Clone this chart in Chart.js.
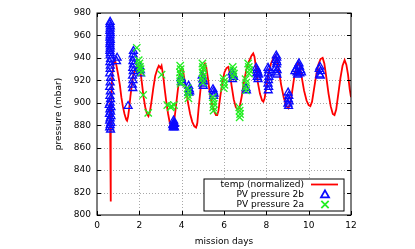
<!DOCTYPE html>
<html>
<head>
<meta charset="utf-8">
<script src="https://cdn.jsdelivr.net/npm/chart.js@4.4.0/dist/chart.umd.min.js"></script>
<style>
html,body{margin:0;padding:0;background:#fff;}
canvas{display:block;}
</style>
</head>
<body>
<canvas id="c" width="415" height="249"></canvas>
<script>
// ---- data ----
const seriesNames = ['temp (normalized)', 'PV pressure 2b', 'PV pressure 2a'];
const xTicks = [0, 2, 4, 6, 8, 10, 12];
const yTicks = [800, 820, 840, 860, 880, 900, 920, 940, 960, 980];
const xTitle = 'mission days';
const yTitle = 'pressure (mbar)';

const tempDays = [0.60,0.62,0.64,0.66,0.68,0.72,0.78,0.85,0.92,1.00,1.08,1.15,1.22,1.30,1.38,1.42,1.47,1.52,1.58,1.64,1.72,1.80,1.90,1.98,2.05,2.12,2.20,2.28,2.36,2.43,2.50,2.58,2.66,2.75,2.85,2.92,3.00,3.05,3.12,3.20,3.28,3.36,3.44,3.50,3.56,3.62,3.70,3.78,3.86,3.94,4.00,4.06,4.14,4.22,4.30,4.40,4.50,4.60,4.68,4.74,4.80,4.88,4.96,5.04,5.10,5.16,5.24,5.32,5.42,5.52,5.62,5.68,5.74,5.82,5.92,6.02,6.12,6.20,6.28,6.36,6.46,6.56,6.66,6.74,6.84,6.94,7.06,7.18,7.30,7.38,7.44,7.52,7.60,7.70,7.80,7.86,7.92,8.00,8.10,8.22,8.34,8.43,8.50,8.60,8.70,8.82,8.94,9.04,9.12,9.22,9.32,9.42,9.50,9.58,9.68,9.78,9.90,10.00,10.08,10.16,10.26,10.36,10.46,10.56,10.66,10.74,10.84,10.94,11.04,11.14,11.22,11.30,11.40,11.50,11.60,11.70,11.78,11.86,11.94,12.00];
const tempValues = [900,880,812,872,905,925,935,938,933,925,916,905,897,890,885,884,888,895,906,915,925,930,932,933,928,918,905,896,890,888,892,902,913,924,930,933,931,933,925,912,900,890,882,878,877,880,892,905,918,928,931,929,920,910,900,890,883,879,878,882,895,910,924,933,935,932,922,910,900,893,889,889,893,905,918,927,931,932,926,915,903,896,894,896,906,918,930,937,942,944,941,930,918,908,902,901,904,914,926,935,940,942,938,928,916,905,897,895,899,910,923,932,936,933,922,911,902,898,897,901,913,925,934,939,940,935,922,908,897,890,889,894,908,922,933,938,934,925,912,905];

const pv2bDays = [0.62,0.61,0.63,0.62,0.61,0.63,0.62,0.61,0.63,0.62,0.61,0.63,0.62,0.61,0.63,0.62,0.64,0.61,0.63,0.62,0.60,0.64,0.62,0.60,0.63,0.61,0.64,0.62,0.58,0.66,0.61,0.64,0.59,0.66,0.62,0.60,0.65,0.62,0.60,0.64,
  0.95,0.92,1.47,
  1.72,1.71,1.73,1.70,1.72,1.69,1.71,1.68,1.70,1.67,1.69,
  2.02,2.05,2.06,
  3.60,3.63,3.66,3.61,3.64,3.62,3.58,3.66,
  3.97,4.00,4.03,
  4.33,4.36,4.38,4.34,
  4.97,5.00,5.03,4.99,5.02,
  5.48,5.50,5.53,5.51,
  6.38,6.42,6.45,6.40,
  7.04,7.06,
  7.52,7.56,7.60,7.63,7.57,7.61,7.55,
  8.08,8.11,8.09,8.12,8.10,8.08,8.11,8.09,
  8.47,8.49,8.46,8.50,8.48,8.45,8.51,8.47,8.50,
  9.03,9.06,9.04,9.07,9.02,9.05,
  9.35,9.40,9.45,9.50,9.54,9.57,9.62,9.48,9.58,9.66,
  10.50,10.53,10.56,10.52,10.55];
const pv2bValues = [972,970,968,966,964,962,960,958,956,954,952,950,948,946,944,942,939,936,933,930,926,922,918,914,910,906,903,900,898,896,894,892,890,888,886,884,882,880,878,876,
  940,937,897,
  946,943,940,937,934,931,928,924,920,916,913,
  932,929,926,
  878,879,878,881,882,884,880,881,
  922,920,918,
  915,912,910,909,
  924,921,919,917,915,
  912,910,908,906,
  927,925,923,921,
  913,911,
  931,929,927,925,923,921,926,
  931,929,926,923,920,917,914,911,
  942,940,938,936,934,931,929,927,925,
  909,906,903,901,899,897,
  928,930,927,933,935,932,929,925,926,927,
  930,932,928,925,924];

const pv2aDays = [1.88,1.97,2.00,2.03,2.06,2.09,2.18,2.42,
  3.05,3.32,3.48,3.52,3.64,
  3.93,3.95,3.92,3.96,3.94,3.93,3.95,
  4.28,4.31,4.29,4.32,
  4.98,5.00,5.02,4.99,5.01,4.98,5.00,
  5.47,5.50,5.52,5.49,5.51,
  5.97,6.00,6.02,5.99,
  6.41,6.44,6.47,6.43,
  6.72,6.74,6.76,6.74,
  7.02,7.05,7.03,7.04,
  7.14,7.17,7.20,7.18];
const pv2aValues = [949,938,935,932,930,927,907,891,
  925,898,896,897,898,
  933,930,927,925,922,919,917,
  913,910,907,904,
  935,932,930,927,924,921,918,
  905,902,899,896,893,
  922,919,916,913,
  932,929,926,923,
  896,893,890,887,
  921,918,914,911,
  935,932,929,926];

// ---- colours / styles ----
const RED = '#ff0000', BLUE = '#0a0aff', GREEN = '#22ee22';
const FONT = "'DejaVu Sans', sans-serif";

function pts(xs, ys){ return xs.map((x,i)=>({x:x, y:ys[i]})); }

const framePlugin = {
  id: 'gnuFrame',
  beforeDatasetsDraw(chart){
    const ctx = chart.ctx, a = chart.chartArea;
    const xs = chart.scales.x, ys = chart.scales.y;
    ctx.save();
    ctx.strokeStyle = '#a8a8a8';
    ctx.lineWidth = 1;
    ctx.setLineDash([1, 2]);
    ctx.beginPath();
    yTicks.slice(1, -1).forEach(v=>{
      const py = Math.round(ys.getPixelForValue(v)) + 0.5;
      ctx.moveTo(a.left + 4, py); ctx.lineTo(a.right - 4, py);
    });
    xTicks.slice(1, -1).forEach(v=>{
      const px = Math.round(xs.getPixelForValue(v)) + 0.5;
      ctx.moveTo(px, a.bottom - 4); ctx.lineTo(px, a.top + 4);
    });
    ctx.stroke();
    ctx.restore();
  },
  afterDatasetsDraw(chart){
    const ctx = chart.ctx, a = chart.chartArea;
    const xs = chart.scales.x, ys = chart.scales.y;
    ctx.save();
    ctx.strokeStyle = '#000';
    ctx.lineWidth = 1;
    ctx.beginPath();
    yTicks.forEach(v=>{
      const py = Math.round(ys.getPixelForValue(v)) + 0.5;
      ctx.moveTo(a.left, py); ctx.lineTo(a.left+4, py);
      ctx.moveTo(a.right, py); ctx.lineTo(a.right-4, py);
    });
    xTicks.forEach(v=>{
      const px = Math.round(xs.getPixelForValue(v)) + 0.5;
      ctx.moveTo(px, a.bottom); ctx.lineTo(px, a.bottom-4);
      ctx.moveTo(px, a.top); ctx.lineTo(px, a.top+4);
    });
    ctx.stroke();
    ctx.strokeRect(a.left, a.top, a.right-a.left, a.bottom-a.top);
    ctx.restore();
  },
  afterDraw(chart){
    const ctx = chart.ctx;
    ctx.save();
    const bx = 204, by = 179, bw = 140, bh = 32;
    ctx.fillStyle = '#fff';
    ctx.fillRect(bx, by, bw, bh);
    ctx.strokeStyle = '#000';
    ctx.lineWidth = 1;
    ctx.strokeRect(bx, by, bw, bh);
    ctx.font = '9px ' + FONT;
    ctx.fillStyle = '#000';
    ctx.textAlign = 'right';
    ctx.textBaseline = 'middle';
    const rows = [184.5, 194.5, 204.5];
    seriesNames.forEach((n,i)=>ctx.fillText(n, 304, rows[i]));
    ctx.strokeStyle = RED; ctx.lineWidth = 1.8;
    ctx.beginPath(); ctx.moveTo(311, rows[0]); ctx.lineTo(338, rows[0]); ctx.stroke();
    ctx.strokeStyle = BLUE; ctx.fillStyle = 'rgba(0,0,0,0)';
    Chart.helpers.drawPoint(ctx, {pointStyle:'triangle', radius:4.6, borderWidth:1.3, rotation:0}, 325, 195);
    ctx.strokeStyle = GREEN;
    Chart.helpers.drawPoint(ctx, {pointStyle:'crossRot', radius:5.2, borderWidth:1.3, rotation:0}, 325, 204.5);
    ctx.restore();
  }
};

new Chart(document.getElementById('c'), {
  type: 'line',
  data: {
    datasets: [
      { label: seriesNames[0], data: pts(tempDays, tempValues), borderColor: RED, borderWidth: 1.8,
        pointRadius: 0, fill: false, tension: 0, order: 3 },
      { label: seriesNames[1], data: pts(pv2bDays, pv2bValues), showLine: false, pointStyle: 'triangle',
        pointRadius: 4.6, pointBorderWidth: 1.3, pointBorderColor: BLUE, pointBackgroundColor: 'rgba(0,0,0,0)',
        borderColor: BLUE, order: 2 },
      { label: seriesNames[2], data: pts(pv2aDays, pv2aValues), showLine: false, pointStyle: 'crossRot',
        pointRadius: 5.2, pointBorderWidth: 1.3, pointBorderColor: GREEN, pointBackgroundColor: GREEN,
        borderColor: GREEN, order: 1 }
    ]
  },
  options: {
    responsive: false,
    animation: false,
    devicePixelRatio: 1,
    layout: { padding: { left: 0, right: 64, top: 13, bottom: 0 } },
    plugins: { legend: { display: false }, tooltip: { enabled: false } },
    scales: {
      x: {
        type: 'linear', min: 0, max: 12,
        afterBuildTicks: (s) => { s.ticks = xTicks.map(v=>({value:v})); },
        afterFit: (s) => { s.height = 34; },
        ticks: { autoSkip: false, maxRotation: 0, padding: 5, color: '#000', font: { family: FONT, size: 9 } },
        grid: { display: false, drawTicks: false },
        border: { display: false },
        title: { display: true, text: xTitle, color: '#000', font: { family: FONT, size: 9 }, padding: { top: 0, bottom: 2 } }
      },
      y: {
        type: 'linear', min: 800, max: 980,
        afterBuildTicks: (s) => { s.ticks = yTicks.map(v=>({value:v})); },
        afterFit: (s) => { s.width = 97; },
        ticks: { autoSkip: false, padding: 6, color: '#000', font: { family: FONT, size: 9 } },
        grid: { display: false, drawTicks: false },
        border: { display: false },
        title: { display: true, text: yTitle, color: '#000', font: { family: FONT, size: 9 }, padding: { top: 53, bottom: 0 } }
      }
    }
  },
  plugins: [framePlugin]
});
</script>
</body>
</html>
